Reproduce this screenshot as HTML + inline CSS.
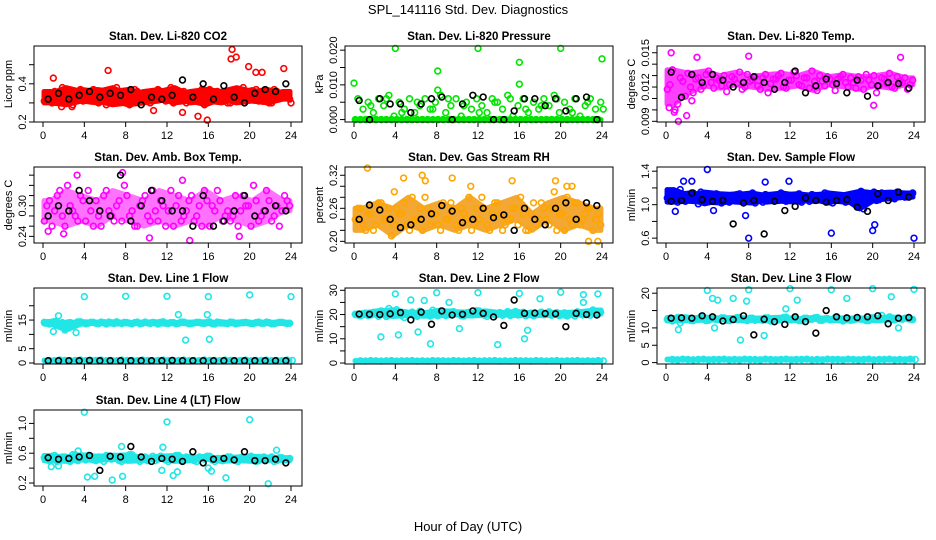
<!DOCTYPE html>
<html><head><meta charset="utf-8"><title>SPL_141116 Std. Dev. Diagnostics</title>
<style>
html,body{margin:0;padding:0;background:#fff;}
svg{display:block;font-family:"Liberation Sans",sans-serif;}
.pt{fill:none;stroke-width:1.6;}
.tt{font-weight:bold;font-size:11.5px;}
.tk{font-size:11px;}
</style></head>
<body>
<svg id="chart" width="936" height="540" viewBox="0 0 936 540">
<text x="468" y="14" text-anchor="middle" font-size="13">SPL_141116  Std. Dev. Diagnostics</text>
<text x="468" y="531" text-anchor="middle" font-size="13">Hour of Day (UTC)</text>
</svg>
<script>
// ---- data ----
const xTicks = [0,4,8,12,16,20,24];
const co2A = [0.31,0.34,0.36,0.33,0.30,0.35,0.32,0.37,0.34,0.31,0.36,0.33,0.29,0.35,0.38,0.32,0.34,0.30,0.36,0.33,0.31,0.35,0.37,0.32,0.34,0.30,0.33,0.36,0.31,0.35,0.34,0.29,0.37,0.33,0.32,0.36,0.30,0.34,0.35,0.31,0.33,0.37,0.32,0.34,0.30,0.36,0.33,0.35];
const co2B = [0.35,0.30,0.33,0.38,0.32,0.29,0.36,0.31,0.34,0.37,0.30,0.35,0.33,0.31,0.36,0.34,0.29,0.37,0.32,0.35,0.30,0.33,0.36,0.31,0.38,0.33,0.35,0.30,0.34,0.32,0.37,0.33,0.31,0.36,0.34,0.30,0.35,0.32,0.38,0.33,0.36,0.31,0.34,0.30,0.37,0.33,0.35,0.32];
const co2OutH = [1.0,6.3,10.7,13.5,15.0,15.9,18.3,18.2,18.7,19.9,20.6,21.2,23.3,1.8,2.8,24];
const co2OutV = [0.43,0.47,0.26,0.25,0.23,0.21,0.58,0.53,0.54,0.49,0.46,0.46,0.48,0.28,0.28,0.30];
const co2Blk = [0.32,0.35,0.32,0.34,0.36,0.33,0.35,0.34,0.37,0.29,0.33,0.32,0.34,0.42,0.33,0.40,0.32,0.39,0.33,0.30,0.35,0.37,0.36,0.40];

const prA = [0.006,0.003,0.005,0.002,0.006,0.004,0.007,0.001,0.005,0.003,0.006,0.002,0.004,0.006,0.003,0.005,0.007,0.002,0.004,0.006,0.001,0.005,0.003,0.006,0.004,0.002,0.006,0.005,0.003,0.007,0.001,0.004,0.006,0.002,0.005,0.003,0.006,0.004,0.007,0.002,0.005,0.003,0.006,0.001,0.004,0.006,0.003,0.005];
const prB = [0,0,0.004,0,0,0.006,0,0,0.002,0,0,0.005,0,0,0.003,0,0,0.006,0,0,0.004,0,0,0.002,0,0,0.005,0,0,0.006,0,0,0.003,0,0,0.004,0,0,0.006,0,0,0.002,0,0,0.005,0,0,0.003];
const prC = [0,0,0,0,0,0,0,0,0,0,0,0,0,0,0,0,0,0,0,0,0,0,0,0,0,0,0,0,0,0,0,0,0,0,0,0,0,0,0,0,0,0,0,0,0,0,0,0];
const prOutH = [0,4,8.1,8.1,12,16,16,20,24];
const prOutV = [0.0105,0.0205,0.014,0.0085,0.0205,0.0165,0.0102,0.0205,0.0175];
const prBlk = [0.0055,0,0.006,0.0045,0.0045,0.002,0.0045,0.006,0.0065,0,0.0045,0.007,0.0065,0,0,0.0025,0.006,0.006,0.004,0.006,0.0025,0.006,0.0065,0];

const tpA = [0.0118,0.0135,0.0105,0.0125,0.0132,0.0115,0.0128,0.0121,0.0134,0.0119,0.0126,0.0130,0.0122,0.0127,0.0133,0.0120,0.0125,0.0129,0.0118,0.0131,0.0123,0.0127,0.0132,0.0119,0.0126,0.0130,0.0121,0.0128,0.0134,0.0117,0.0125,0.0129,0.0122,0.0127,0.0131,0.0120,0.0124,0.0129,0.0118,0.0126,0.0130,0.0121,0.0127,0.0132,0.0119,0.0125,0.0128,0.0122];
const tpB = [0.0122,0.0100,0.0128,0.0112,0.0120,0.0127,0.0118,0.0131,0.0124,0.0128,0.0121,0.0116,0.0129,0.0123,0.0118,0.0131,0.0126,0.0121,0.0128,0.0115,0.0127,0.0130,0.0120,0.0126,0.0133,0.0122,0.0128,0.0119,0.0125,0.0130,0.0121,0.0127,0.0117,0.0129,0.0124,0.0128,0.0119,0.0126,0.0131,0.0122,0.0115,0.0128,0.0123,0.0120,0.0129,0.0124,0.0118,0.0126];
const tpOutH = [0.5,1.2,0.8,2.0,3.0,8.0,22.7,20.1,2.5,0.3];
const tpOutV = [0.0150,0.0090,0.0098,0.0095,0.0146,0.0147,0.0146,0.0104,0.0108,0.0102];
const tpBlk = [0.0133,0.0111,0.0131,0.0124,0.0131,0.0126,0.0120,0.0124,0.0129,0.0124,0.0118,0.0124,0.0134,0.0115,0.0121,0.0127,0.0123,0.0115,0.0126,0.0112,0.0121,0.0124,0.0123,0.0119];

const abA = [0.27,0.31,0.29,0.33,0.26,0.30,0.28,0.32,0.27,0.29,0.31,0.26,0.33,0.28,0.30,0.27,0.32,0.29,0.26,0.31,0.28,0.33,0.27,0.30,0.29,0.26,0.32,0.28,0.31,0.27,0.30,0.33,0.26,0.29,0.31,0.28,0.27,0.32,0.29,0.30,0.26,0.31,0.28,0.33,0.27,0.30,0.29,0.31];
const abB = [0.30,0.26,0.32,0.28,0.34,0.29,0.27,0.31,0.33,0.26,0.28,0.32,0.29,0.27,0.31,0.34,0.28,0.26,0.30,0.32,0.27,0.29,0.31,0.26,0.33,0.30,0.27,0.29,0.32,0.28,0.26,0.31,0.30,0.33,0.27,0.29,0.28,0.26,0.32,0.30,0.34,0.27,0.29,0.31,0.28,0.26,0.32,0.30];
const abOutH = [0.5,2,7.7,14.2,10.3,19,3.3,13.5];
const abOutV = [0.25,0.245,0.365,0.232,0.237,0.24,0.36,0.35];
const abBlk = [0.28,0.30,0.29,0.33,0.31,0.29,0.28,0.36,0.27,0.30,0.33,0.31,0.29,0.29,0.26,0.32,0.26,0.27,0.29,0.32,0.28,0.29,0.30,0.29];

const rhA = [0.24,0.26,0.22,0.25,0.23,0.27,0.24,0.21,0.26,0.25,0.23,0.28,0.24,0.22,0.26,0.25,0.23,0.27,0.24,0.26,0.22,0.25,0.28,0.23,0.24,0.26,0.22,0.27,0.25,0.23,0.24,0.26,0.28,0.22,0.25,0.23,0.27,0.24,0.26,0.22,0.25,0.28,0.23,0.27,0.24,0.26,0.22,0.25];
const rhB = [0.26,0.23,0.25,0.22,0.27,0.24,0.26,0.23,0.25,0.27,0.22,0.24,0.26,0.28,0.23,0.25,0.22,0.24,0.27,0.23,0.26,0.24,0.22,0.26,0.28,0.23,0.25,0.27,0.22,0.24,0.26,0.23,0.25,0.22,0.27,0.24,0.26,0.23,0.29,0.25,0.22,0.24,0.27,0.23,0.25,0.26,0.24,0.23];
const rhOutH = [1.3,4.8,6.6,6.9,9.5,11.3,15.3,19.5,20.6,21.1,22.7,23.6,3.9];
const rhOutV = [0.333,0.315,0.32,0.31,0.315,0.30,0.31,0.31,0.30,0.30,0.20,0.20,0.29];
const rhBlk = [0.24,0.266,0.257,0.24,0.225,0.23,0.24,0.25,0.265,0.255,0.234,0.24,0.26,0.243,0.248,0.22,0.26,0.24,0.23,0.26,0.27,0.24,0.27,0.265];

const sfA = [1.08,1.12,1.03,1.10,1.06,1.14,1.01,1.09,1.12,1.05,1.08,1.11,1.03,1.07,1.13,1.06,1.10,1.02,1.09,1.12,1.05,1.08,1.14,1.04,1.07,1.11,1.03,1.09,1.12,1.06,1.08,1.13,1.02,1.10,1.07,1.11,1.05,1.09,0.95,1.08,1.15,1.06,1.10,1.12,1.07,1.13,1.09,1.11];
const sfB = [1.12,1.05,1.18,1.04,1.11,1.07,1.15,1.03,1.08,1.13,1.02,1.10,1.06,1.12,1.04,1.09,1.14,1.07,1.03,1.11,1.08,1.05,1.12,1.09,1.06,1.13,1.08,1.04,1.11,1.07,1.14,1.05,1.10,1.08,1.03,1.12,1.09,1.16,1.02,1.11,1.05,1.14,1.10,1.08,1.15,1.12,1.10,1.14];
const sfOutH = [1.7,2.5,4.0,9.6,11.9,8.0,16,24,20,20.2,7.7,0.9,4.6];
const sfOutV = [1.28,1.28,1.42,1.27,1.28,0.6,0.66,0.6,0.69,0.76,0.87,0.92,0.93];
const sfBlk = [1.04,1.05,1.14,1.06,1.04,1.05,0.77,1.02,1.05,0.65,1.04,0.93,0.98,1.08,1.05,1.03,1.05,1.06,0.97,0.92,1.13,1.05,1.15,1.09];

const l1A = [14.2,13.6,14.5,13.9,11.5,14.1,13.8,14.4,13.7,14.2,13.9,14.3,13.6,14.0,14.4,13.8,14.1,13.7,14.3,13.9,14.0,14.2,13.6,14.4,13.8,14.1,13.9,14.3,13.7,14.0,14.2,13.8,14.4,13.6,14.1,13.9,14.3,13.7,14.0,14.2,13.8,14.1,13.9,14.3,13.7,14.0,14.2,13.8];
const l1B = [13.9,14.3,13.7,14.1,14.0,13.8,14.4,14.0,13.9,14.2,13.7,14.1,14.3,13.8,14.0,14.2,13.9,14.1,13.7,14.3,13.8,14.0,14.2,13.9,14.1,13.7,14.3,14.0,13.8,14.2,13.9,14.1,13.7,14.3,14.0,13.8,14.2,13.9,14.1,14.0,13.8,14.3,13.9,14.1,13.7,14.2,14.0,13.9];
const lowBand = [0.9,0.8,1.0,0.9,0.8,0.9,1.0,0.8,0.9,0.9,1.0,0.8,0.9,0.8,1.0,0.9,0.9,0.8,1.0,0.9,0.8,0.9,1.0,0.8,0.9,0.9,1.0,0.8,0.9,0.8,1.0,0.9,0.9,0.8,1.0,0.9,0.8,0.9,1.0,0.8,0.9,0.9,1.0,0.8,0.9,0.8,1.0,0.9];
const l1OutH = [4,8,12,16,20,24,3.2,13.8,16.1,15.9,13.1,1.5,1.0];
const l1OutV = [23.2,23.3,23.3,23.2,23.8,23.2,10.6,8.0,8.3,16.9,16.9,16.5,11.0];
const l1Blk = [0.8,0.8,0.8,0.8,0.9,0.8,0.8,0.8,0.8,0.8,0.8,0.8,0.9,0.8,0.8,0.8,0.8,0.8,0.8,0.8,0.8,0.8,0.8,0.8];

const l2A = [20.1,19.5,20.6,19.8,20.3,21.5,19.2,20.8,22.0,19.6,20.4,21.0,19.3,20.7,20.0,21.8,19.5,20.5,19.9,21.2,20.3,19.4,20.9,20.1,21.5,19.7,20.4,19.9,20.8,20.2,19.6,21.3,20.0,19.5,20.6,19.9,21.0,20.3,19.7,20.8,20.1,19.4,20.5,21.1,19.8,20.3,21.9,20.2];
const l2B = [19.8,20.4,19.6,20.9,19.3,20.2,22.5,19.9,20.6,18.8,20.3,19.7,21.4,20.0,19.4,20.8,20.2,19.6,21.0,20.4,19.5,20.7,19.9,21.6,20.1,19.3,20.6,20.0,19.7,21.2,20.4,19.8,20.9,20.2,19.5,20.5,19.9,21.1,20.3,19.6,20.7,20.0,19.4,20.8,20.2,19.7,20.5,21.0];
const l2OutH = [4,8,12,16,20,22.2,23.6,2.6,6.2,7.4,13.9,10.2,16.5,16.8,4.3,18,5.5,6.8,9.2,22.2];
const l2OutV = [28.5,29,29,28.7,29.2,28.2,28.5,10.8,12.8,7.9,7.6,14.2,10,13.5,11.6,26.5,26,25.8,25,25];
const l2Blk = [20.2,20.1,20.0,20.3,20.8,17.8,21.0,16.0,21.5,19.8,20.1,21.5,20.5,19.0,15.5,26.0,20.5,20.6,20.4,20.3,15.0,20.5,20.0,19.8];

const l3A = [12.5,12.0,13.0,12.3,12.8,12.1,12.6,13.1,12.2,12.7,12.4,12.9,12.1,12.6,13.0,12.3,12.8,12.2,12.5,12.9,12.0,12.7,12.4,13.1,12.3,12.6,12.1,12.8,12.5,13.0,12.2,12.7,12.4,12.9,12.0,12.6,12.3,12.8,12.5,12.1,12.9,12.4,12.7,13.2,12.3,12.6,12.8,12.5];
const l3B = [12.8,12.3,11.5,12.9,12.2,12.6,13.2,12.1,12.7,12.4,12.9,12.2,12.6,13.0,12.4,12.1,12.8,12.5,12.2,12.9,12.6,12.3,13.0,12.4,12.7,12.1,12.8,12.5,12.9,12.2,12.6,12.3,13.0,12.4,12.7,12.2,12.8,12.5,12.1,12.9,12.4,13.6,12.6,12.3,12.8,12.5,12.7,12.4];
const l3OutH = [4,8,12,16,20,24,4.5,5,7.8,6.5,12.7,17.5,21.8,7.2,9.5,4.7,1.2,11.6,22.5];
const l3OutV = [20.8,21,21.3,21,21.3,21.1,18.5,18,17.7,18.5,18,18.5,19,6.5,7.8,10,9.5,15.5,10];
const l3Blk = [12.8,12.9,12.8,13.5,13.2,12.0,12.4,13.5,8.0,12.5,11.8,11.0,13.2,11.8,8.5,15.0,13.2,12.9,13.0,13.2,13.5,11.2,12.8,13.0];

const l4A = [0.54,0.50,0.57,0.52,0.55,0.49,0.58,0.53,0.51,0.56,0.50,0.54,0.57,0.52,0.55,0.49,0.53,0.58,0.51,0.54,0.50,0.56,0.52,0.55,0.49,0.53,0.57,0.51,0.54,0.50,0.55,0.52,0.56,0.49,0.53,0.51,0.55,0.50,0.54,0.52,0.56,0.49,0.53,0.51,0.55,0.50,0.54,0.52];
const l4B = [0.51,0.56,0.49,0.55,0.52,0.58,0.50,0.54,0.57,0.51,0.55,0.49,0.53,0.56,0.50,0.54,0.58,0.52,0.49,0.55,0.53,0.50,0.56,0.51,0.54,0.57,0.50,0.55,0.52,0.49,0.54,0.56,0.51,0.53,0.50,0.55,0.52,0.49,0.54,0.51,0.53,0.50,0.55,0.52,0.49,0.54,0.51,0.53];
const l4OutH = [4,12,20,4.3,5.0,6.7,7.7,12.6,13.0,17.7,21.8,0.8,1.5,16,16.3,11.5,7.6,11.6,3.4,22.6];
const l4OutV = [1.15,1.02,1.05,0.28,0.29,0.24,0.29,0.30,0.35,0.27,0.19,0.42,0.43,0.40,0.36,0.37,0.69,0.68,0.63,0.64];
const l4Blk = [0.54,0.52,0.53,0.55,0.57,0.37,0.56,0.55,0.69,0.55,0.49,0.53,0.52,0.49,0.62,0.47,0.52,0.53,0.51,0.62,0.50,0.50,0.52,0.47];

// ---- layout (geometry only) ----
const NS = "http://www.w3.org/2000/svg";
const svg = document.getElementById('chart');
const colLeft = [34, 345, 657], boxW = 268;
const rowTop = [46, 167, 288, 410], boxH = 76;

function mk(tag, attrs, parent){
  const e = document.createElementNS(NS, tag);
  for (const k in attrs) e.setAttribute(k, attrs[k]);
  (parent||svg).appendChild(e);
  return e;
}

function panel(p){
  const L = colLeft[p.col], T = rowTop[p.row], R = L + boxW, B = T + boxH;
  const g = mk('g', {});
  
  
  const sx = h => L + 9 + h / 24 * (boxW - 20);
  const sy = v => B - (v - p.ymin) / (p.ymax - p.ymin) * boxH;
  const t = mk('text', {x: (L + R) / 2, y: T - 6, 'text-anchor': 'middle', class: 'tt'}, g);
  t.textContent = p.title;
  
  
  const ya = mk('text', {x: 0, y: 0, 'text-anchor': 'middle', class: 'tk', transform: `translate(${L - 22},${(T + B) / 2}) rotate(-90)`}, g);
  ya.textContent = p.ylab;
  
  
  const xg = mk('g', {}, g);
  
  
  mk('line', {x1: sx(xTicks[0]), x2: sx(xTicks[xTicks.length - 1]), y1: B, y2: B, stroke: '#000'}, xg);
  xTicks.forEach(v => {
    mk('line', {x1: sx(v), x2: sx(v), y1: B, y2: B + 5, stroke: '#000'}, xg);
    const tx = mk('text', {x: sx(v), y: B + 17, 'text-anchor': 'middle', class: 'tk'}, xg);
    tx.textContent = v;
  });
  const yg = mk('g', {}, g);
  
  
  p.yTicks.forEach(v => {
    mk('line', {x1: L - 5, x2: L, y1: sy(v), y2: sy(v), stroke: '#000'}, yg);
  });
  p.yLabels.forEach(v => {
    const tx = mk('text', {x: 0, y: 0, 'text-anchor': 'middle', class: 'tk', transform: `translate(${L - 8},${sy(v)}) rotate(-90)`}, yg);
    tx.textContent = v.toFixed(p.dec);
  });
  const pg = mk('g', {}, g);
  
  
  // dense cloud envelope derived from band arrays
  (p.env || []).forEach(k => {
    const arr = p.bands[k], W = 3, top = [], bot = [];
    for (let i = 0; i < arr.length; i += W) {
      const seg = arr.slice(i, i + W);
      const hx = sx((i + W / 2) * 24 / arr.length);
      top.push([hx, sy(Math.max(...seg))]);
      bot.push([hx, sy(Math.min(...seg))]);
    }
    const x0 = sx(0.1), x1 = sx(23.9);
    const pts = [[x0, top[0][1]], ...top, [x1, top[top.length-1][1]], [x1, bot[bot.length-1][1]], ...bot.reverse(), [x0, bot[bot.length-1][1]]];
    const poly = mk('polygon', {points: pts.map(q => q.join(',')).join(' '), fill: p.envFill || p.color, stroke: p.envFill || p.color, 'stroke-width': 5, 'stroke-linejoin': 'round', opacity: p.envOp || 1}, pg);
    
    
  });
  const dot = (h, v, col, fill) => mk('circle', {cx: sx(h), cy: sy(v), r: 2.9, class: 'pt', stroke: col, fill: fill || 'none'}, pg);
  p.bands.forEach((arr, k) => {
    arr.forEach((v, i) => dot((i + 0.25 + k * 0.5) * 24 / arr.length, v, p.color, p.fill));
  });
  p.outH.forEach((h, i) => dot(h, p.outV[i], p.color, p.fill));
  p.blk.forEach((v, i) => dot((i + 0.5) * 24 / p.blk.length, v, '#000'));
  mk('rect', {x: L, y: T, width: boxW, height: boxH, fill: 'none', stroke: '#000'}, g);
}

const red='#ff0000', grn='#00e600', mag='#ff00ff', blu='#0000ff', cyn='#22e6e6', org='#ffa500';
panel({name:'co2', col:0,row:0,title:'Stan. Dev. Li-820 CO2',ylab:'Licor ppm',ymin:0.2,ymax:0.598,yTicks:[0.2,0.3,0.4,0.5],yLabels:[0.2,0.4],dec:1,color:red,bands:[co2A,co2B],env:[0,1],outH:co2OutH,outV:co2OutV,blk:co2Blk});
panel({name:'pressure', col:1,row:0,title:'Stan. Dev. Li-820 Pressure',ylab:'kPa',ymin:-0.0007,ymax:0.0212,yTicks:[0,0.005,0.01,0.015,0.02],yLabels:[0,0.01,0.02],dec:3,color:grn,bands:[prC,prA,prB],env:[0],outH:prOutH,outV:prOutV,blk:prBlk});
panel({name:'li820-temp', col:2,row:0,title:'Stan. Dev. Li-820 Temp.',ylab:'degrees C',ymin:0.00894,ymax:0.01559,yTicks:[0.009,0.010,0.011,0.012,0.013,0.014,0.015],yLabels:[0.009,0.012,0.015],dec:3,color:mag,bands:[tpA,tpB],env:[0],envOp:0.75,outH:tpOutH,outV:tpOutV,blk:tpBlk});
panel({name:'amb-box-temp', col:0,row:1,title:'Stan. Dev. Amb. Box Temp.',ylab:'degrees C',ymin:0.227,ymax:0.376,yTicks:[0.24,0.26,0.28,0.30,0.32,0.34,0.36],yLabels:[0.24,0.30],dec:2,color:mag,bands:[abA,abB],env:[0],envOp:0.55,outH:abOutH,outV:abOutV,blk:abBlk});
panel({name:'gas-stream-rh', col:1,row:1,title:'Stan. Dev. Gas Stream RH',ylab:'percent',ymin:0.197,ymax:0.335,yTicks:[0.20,0.22,0.24,0.26,0.28,0.30,0.32],yLabels:[0.20,0.26,0.32],dec:2,color:org,fill:'#e83a00',bands:[rhA,rhB],env:[0],envFill:'#f29a10',envOp:0.85,outH:rhOutH,outV:rhOutV,blk:rhBlk});
panel({name:'sample-flow', col:2,row:1,title:'Stan. Dev. Sample Flow',ylab:'ml/min',ymin:0.542,ymax:1.45,yTicks:[0.6,0.8,1.0,1.2,1.4],yLabels:[0.6,1.0,1.4],dec:1,color:blu,bands:[sfA,sfB],env:[0,1],outH:sfOutH,outV:sfOutV,blk:sfBlk});
panel({name:'line1-flow', col:0,row:2,title:'Stan. Dev. Line 1 Flow',ylab:'ml/min',ymin:-0.35,ymax:26.2,yTicks:[0,5,10,15,20],yLabels:[0,5,15],dec:0,color:cyn,bands:[l1A,l1B,lowBand],env:[0,2],outH:l1OutH,outV:l1OutV,blk:l1Blk});
panel({name:'line2-flow', col:1,row:2,title:'Stan. Dev. Line 2 Flow',ylab:'ml/min',ymin:-0.4,ymax:30.95,yTicks:[0,5,10,15,20,25,30],yLabels:[0,10,20,30],dec:0,color:cyn,bands:[l2A,l2B,lowBand],env:[0,2],outH:l2OutH,outV:l2OutV,blk:l2Blk});
panel({name:'line3-flow', col:2,row:2,title:'Stan. Dev. Line 3 Flow',ylab:'ml/min',ymin:-0.4,ymax:21.5,yTicks:[0,5,10,15,20],yLabels:[0,5,10,20],dec:0,color:cyn,bands:[l3A,l3B,lowBand],env:[0,2],outH:l3OutH,outV:l3OutV,blk:l3Blk});
panel({name:'line4-flow', col:0,row:3,title:'Stan. Dev. Line 4 (LT) Flow',ylab:'ml/min',ymin:0.16,ymax:1.18,yTicks:[0.2,0.4,0.6,0.8,1.0],yLabels:[0.2,0.6,1.0],dec:1,color:cyn,bands:[l4A,l4B],env:[0],outH:l4OutH,outV:l4OutV,blk:l4Blk});
</script>
</body></html>
